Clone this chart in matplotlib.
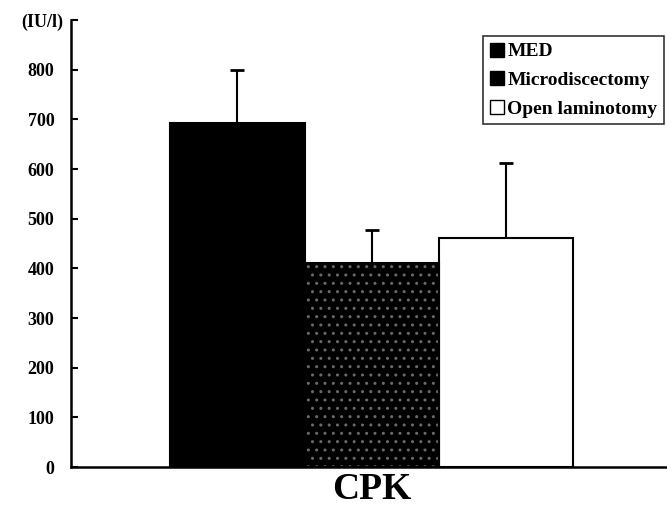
import matplotlib.pyplot as plt
from matplotlib.patches import Patch

groups = ['MED', 'Microdiscectomy', 'Open laminotomy']
means = [692, 411, 462]
err_up = [108, 67, 150]
ticks = [0, 100, 200, 300, 400, 500, 600, 700, 800]

plt.rcParams['font.family'] = 'Liberation Serif'
plt.rcParams['font.weight'] = 'bold'

fig = plt.figure(figsize=(6.67, 5.09), dpi=100)
ax = fig.add_axes([0.1064, 0.0825, 0.8936, 0.878])

x = list(range(len(groups)))
# MED: solid black, Micro: black with light speckle, Open: white
ax.bar(x[0], means[0], width=1.0, color='black', edgecolor='black', linewidth=1.5, zorder=2)
ax.bar(x[1], means[1], width=1.0, color='black', edgecolor='#6a6a6a', hatch='..',
       linewidth=0, zorder=2)
ax.bar(x[1], means[1], width=1.0, fill=False, edgecolor='black', linewidth=1.5, zorder=3)
ax.bar(x[2], means[2], width=1.0, color='white', edgecolor='black', linewidth=1.5, zorder=2)

ax.errorbar(x, means, yerr=[[0, 0, 0], err_up], fmt='none', ecolor='black',
            elinewidth=1.5, capsize=5, capthick=2, zorder=1)

ax.set_xlim(-1.24, 3.2)
ax.set_ylim(0, 900)
ax.set_yticks(ticks + [900])
ax.set_yticklabels([str(t) for t in ticks] + [''], fontsize=13, fontweight='bold')
ax.tick_params(axis='y', direction='in', length=5, width=1.5, pad=12)
ax.set_xticks([])
for s in ['top', 'right']:
    ax.spines[s].set_visible(False)
for s in ['left', 'bottom']:
    ax.spines[s].set_linewidth(1.8)

ax.text(-0.013, 0.995, '(IU/l)', transform=ax.transAxes, ha='right', va='center',
        fontsize=13, fontweight='bold')

ax.text(1.0, -0.012, 'CPK', transform=ax.get_xaxis_transform(), ha='center', va='top',
        fontsize=27, fontweight='bold')

handles = [Patch(facecolor='black', edgecolor='black'),
           Patch(facecolor='black', edgecolor='black'),
           Patch(facecolor='white', edgecolor='black')]
leg = ax.legend(handles, groups, loc='upper right', bbox_to_anchor=(0.995, 0.965),
                prop={'family': 'Liberation Serif', 'weight': 'bold', 'size': 14},
                frameon=True, fancybox=False, edgecolor='black', handlelength=0.75,
                handleheight=0.75, handletextpad=0.15, borderpad=0.35, labelspacing=0.55,
                borderaxespad=0)
leg.get_frame().set_linewidth(1.2)

fig.savefig('out.png', dpi=100)
